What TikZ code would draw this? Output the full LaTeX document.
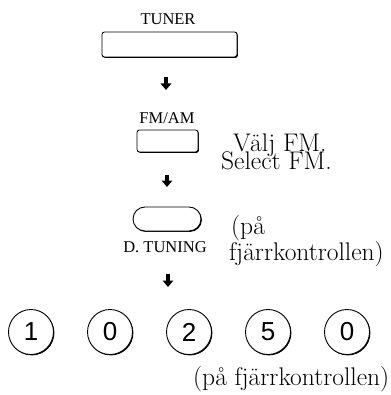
\documentclass[tikz,border=0pt]{standalone}
\usepackage{fontspec}
\newfontfamily\digitfont{Liberation Sans}
\newfontfamily\capfont{Liberation Serif}
\usetikzlibrary{arrows.meta,shadows}
\tikzset{
  bx/.style={draw, fill=white, line width=0.9pt, inner sep=0pt,
    drop shadow={shadow xshift=0.9pt, shadow yshift=-0.9pt, opacity=1, fill=black}},
  keybx/.style={bx, rounded corners=2.5pt},
  pill/.style={bx, rounded corners=12pt, minimum width=68pt, minimum height=24pt},
  dig/.style={bx, circle, minimum size=45pt, font=\digitfont\fontsize{26}{26}\selectfont},
  btncap/.style={inner sep=0pt, font=\capfont\fontsize{16.5}{17}\selectfont},
  lbl/.style={inner sep=0pt, anchor=base west, font=\fontsize{25.5}{26}\selectfont},
  arr/.style={-{Triangle[length=6.5pt, width=10.5pt]}, line width=4pt},
}
\begin{document}
\begin{tikzpicture}[x=1pt, y=-1pt]
    \useasboundingbox (0,0) rectangle (390,395);
    % buttons
    \node[btncap, anchor=base] (tunercap) at (168,24.5) {TUNER};
    \node[keybx, minimum width=135pt, minimum height=25pt] (tuner) at (169.5,44.5) {};
    \node[btncap, anchor=base] (fmamcap) at (167,124) {FM/AM};
    \node[keybx, minimum width=61pt, minimum height=22pt] (fmam) at (167.5,141) {};
    \node[pill] (dtun) at (167,219) {};
    \node[btncap, anchor=base] (dtuncap) at (165,252) {D. TUNING};
    % texts
    \node[lbl] (valj) at (233,152) {Välj FM.};
    \node[lbl] (sel) at (221,170) {Select FM.};
    \node[lbl] (pa) at (231,234) {(på};
    \node[lbl] (fjarr) at (229,260) {fjärrkontrollen)};
    \node[lbl] (pafjarr) at (193,385) {(på fjärrkontrollen)};
    % step arrows
    \foreach \nm/\x/\ya/\yb in {a1/166/77/90, a2/167/175/187, a3/168/274/287}
    {
      \coordinate (\nm s) at (\x,\ya);
      \coordinate (\nm e) at (\x,\yb);
      \draw[arr] (\nm s) -- (\nm e);
    }
    % frequency keys
    \foreach \nm/\x/\tx in {d1/31/1, d2/110/0, d3/189/2, d4/268/5, d5/347/0}
      \node[dig] (\nm) at (\x,332) {\tx};
  \end{tikzpicture}
\end{document}
